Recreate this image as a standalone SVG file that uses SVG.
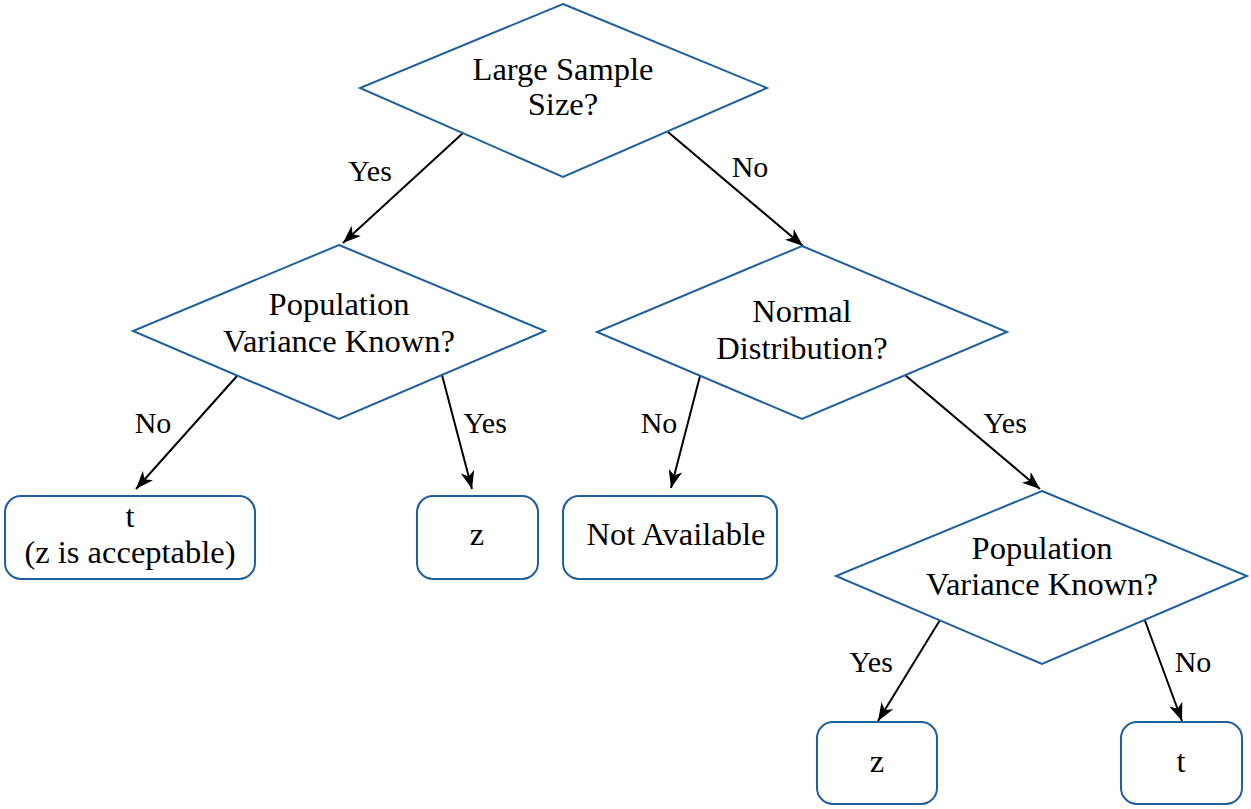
<svg xmlns="http://www.w3.org/2000/svg" width="1251" height="809" viewBox="0 0 1251 809">
<style>
  .shape { fill: #ffffff; stroke: #1f5f9f; stroke-width: 2; }
  .edge { stroke: #000000; stroke-width: 2; fill: none; }
  .node-text { font-size: 32.5px; fill: #000000; text-anchor: middle; }
  .label { font-size: 30px; fill: #000000; text-anchor: middle; }
</style>
<defs>
  <marker id="arrow" viewBox="0 0 18 14" refX="18" refY="7" markerWidth="18" markerHeight="14" markerUnits="userSpaceOnUse" orient="auto">
    <path d="M0,0 L18,7 L0,14 L5,7 Z" fill="#000000"/>
  </marker>
</defs>
<rect width="1251" height="809" fill="#ffffff"/>

<g font-family="Liberation Serif, Times New Roman, DejaVu Serif, serif">
<g id="connectors">
  <line class="edge" x1="463" y1="133" x2="343" y2="243" marker-end="url(#arrow)"/>
  <line class="edge" x1="668" y1="132" x2="803" y2="246" marker-end="url(#arrow)"/>
  <line class="edge" x1="237" y1="376" x2="136" y2="489" marker-end="url(#arrow)"/>
  <line class="edge" x1="442" y1="375" x2="472" y2="489" marker-end="url(#arrow)"/>
  <line class="edge" x1="700" y1="376" x2="671" y2="488" marker-end="url(#arrow)"/>
  <line class="edge" x1="905" y1="375" x2="1040" y2="489" marker-end="url(#arrow)"/>
  <line class="edge" x1="940" y1="620" x2="878" y2="721" marker-end="url(#arrow)"/>
  <line class="edge" x1="1144" y1="618" x2="1182" y2="721" marker-end="url(#arrow)"/>
  <text class="label" x="370" y="181">Yes</text>
  <text class="label" x="750" y="177">No</text>
  <text class="label" x="153" y="433">No</text>
  <text class="label" x="485" y="433">Yes</text>
  <text class="label" x="659" y="433">No</text>
  <text class="label" x="1005" y="433">Yes</text>
  <text class="label" x="871" y="672">Yes</text>
  <text class="label" x="1193" y="672">No</text>
</g>

<g id="large-sample">
  <polygon class="shape" points="563,4 767,88 563,177 360,88"/>
  <text class="node-text" x="563" y="80">Large Sample</text>
  <text class="node-text" x="563" y="115">Size?</text>
</g>

<g id="pop-var-1">
  <polygon class="shape" points="339,245 545,331 339,419 133,331"/>
  <text class="node-text" x="339" y="315">Population</text>
  <text class="node-text" x="339" y="352">Variance Known?</text>
</g>

<g id="normal-dist">
  <polygon class="shape" points="802,246 1007,332 802,419 597,332"/>
  <text class="node-text" x="802" y="322">Normal</text>
  <text class="node-text" x="802" y="359">Distribution?</text>
</g>

<g id="pop-var-2">
  <polygon class="shape" points="1042,491 1247,576 1042,664 836,576"/>
  <text class="node-text" x="1042" y="559">Population</text>
  <text class="node-text" x="1042" y="595">Variance Known?</text>
</g>

<g id="t-acceptable">
  <rect class="shape" x="5" y="496" width="250" height="83" rx="16" ry="16"/>
  <text class="node-text" x="130" y="527">t</text>
  <text class="node-text" x="130" y="563">(z is acceptable)</text>
</g>

<g id="z-1">
  <rect class="shape" x="417" y="496" width="121" height="83" rx="16" ry="16"/>
  <text class="node-text" x="477" y="545">z</text>
</g>

<g id="not-available">
  <rect class="shape" x="563" y="496" width="214" height="83" rx="16" ry="16"/>
  <text class="node-text" x="676" y="545">Not Available</text>
</g>

<g id="z-2">
  <rect class="shape" x="817" y="722" width="120" height="82" rx="16" ry="16"/>
  <text class="node-text" x="877" y="772">z</text>
</g>

<g id="t-2">
  <rect class="shape" x="1121" y="722" width="121" height="82" rx="16" ry="16"/>
  <text class="node-text" x="1181" y="772">t</text>
</g>
</g>
</svg>
